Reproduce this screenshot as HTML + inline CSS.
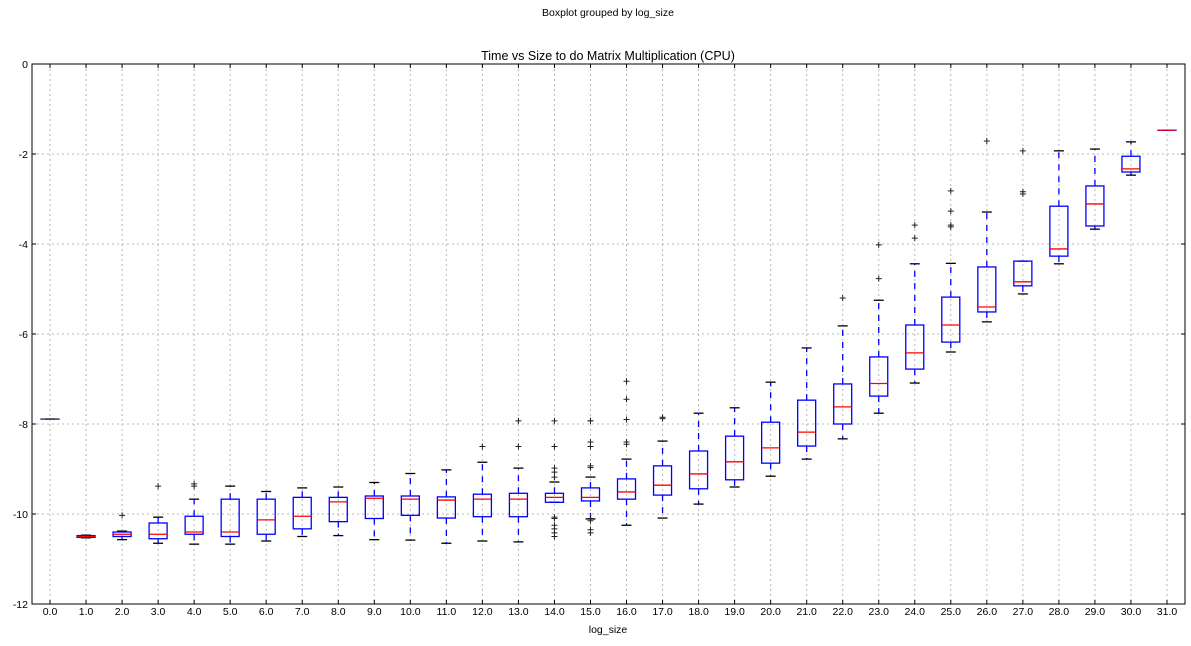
<!DOCTYPE html>
<html><head><meta charset="utf-8"><style>
body{margin:0;background:#fff;}
svg text{font-family:"Liberation Sans",sans-serif;fill:#000;}
</style></head><body>
<svg id="chart" width="1191" height="641">
<text x="608" y="16" font-size="10.5" text-anchor="middle">Boxplot grouped by log_size</text>
<text x="608" y="60" font-size="12.5" text-anchor="middle">Time vs Size to do Matrix Multiplication (CPU)</text>
<text x="608" y="633" font-size="10.5" text-anchor="middle">log_size</text>
<g id="grid"></g><g id="marks"></g><g id="axes"></g>
</svg>
<script>
const categories=["0.0","1.0","2.0","3.0","4.0","5.0","6.0","7.0","8.0","9.0","10.0","11.0","12.0","13.0","14.0","15.0","16.0","17.0","18.0","19.0","20.0","21.0","22.0","23.0","24.0","25.0","26.0","27.0","28.0","29.0","30.0","31.0"];
const whiskLow=[-7.89,-10.53,-10.57,-10.65,-10.67,-10.67,-10.6,-10.5,-10.48,-10.57,-10.58,-10.65,-10.6,-10.62,-9.74,-10.11,-10.25,-10.09,-9.78,-9.4,-9.16,-8.78,-8.33,-7.76,-7.09,-6.4,-5.73,-5.11,-4.44,-3.67,-2.47,-1.47];
const q1=[-7.89,-10.52,-10.5,-10.55,-10.45,-10.5,-10.45,-10.33,-10.17,-10.1,-10.03,-10.09,-10.06,-10.06,-9.74,-9.71,-9.67,-9.58,-9.44,-9.24,-8.87,-8.49,-8.0,-7.38,-6.78,-6.18,-5.51,-4.93,-4.27,-3.6,-2.4,-1.47];
const medians=[-7.89,-10.5,-10.45,-10.45,-10.4,-10.4,-10.13,-10.05,-9.73,-9.65,-9.67,-9.69,-9.67,-9.67,-9.63,-9.63,-9.51,-9.36,-9.11,-8.84,-8.53,-8.18,-7.62,-7.1,-6.42,-5.8,-5.4,-4.84,-4.11,-3.11,-2.33,-1.47];
const q3=[-7.89,-10.48,-10.4,-10.2,-10.05,-9.67,-9.67,-9.63,-9.63,-9.6,-9.6,-9.62,-9.56,-9.54,-9.54,-9.42,-9.22,-8.93,-8.6,-8.27,-7.96,-7.47,-7.11,-6.51,-5.8,-5.18,-4.51,-4.38,-3.16,-2.71,-2.05,-1.47];
const whiskHigh=[-7.89,-10.47,-10.38,-10.07,-9.67,-9.38,-9.5,-9.42,-9.4,-9.3,-9.1,-9.02,-8.85,-8.98,-9.29,-9.18,-8.78,-8.38,-7.76,-7.64,-7.07,-6.31,-5.82,-5.25,-4.44,-4.43,-3.29,-4.38,-1.93,-1.89,-1.73,-1.47];
const fliers=[[],[],[-10.03],[-9.38],[-9.33,-9.38],[],[],[],[],[],[],[],[-8.5],[-7.93,-8.5],[-7.93,-8.5,-8.98,-9.07,-9.18,-10.07,-10.1,-10.25,-10.33,-10.42,-10.5],[-7.93,-7.93,-8.4,-8.5,-8.93,-8.97,-10.1,-10.15,-10.35,-10.42],[-7.05,-7.45,-7.9,-8.4,-8.45],[-7.85,-7.88],[],[],[],[],[-5.2],[-4.77,-4.02],[-3.87,-3.58],[-3.62,-3.58,-3.27,-2.82],[-1.71],[-2.84,-2.89,-1.93],[],[],[],[]];
const yTicks=[0,-2,-4,-6,-8,-10,-12];

const L=32,R=1185,T=64,B=604,NS="http://www.w3.org/2000/svg";
const step=(R-L)/categories.length;
const xPos=i=>L+step*(i+0.5);
const yPos=v=>T+(0-v)/12*(B-T);
function mk(parent,tag,attrs){const e=document.createElementNS(NS,tag);for(const k in attrs)e.setAttribute(k,attrs[k]);document.getElementById(parent).appendChild(e);return e;}
categories.forEach((c,i)=>{const x=xPos(i);
 const g=mk('grid','line',{x1:x,x2:x,y1:T,y2:B,stroke:'#b8b8b8','stroke-dasharray':'2,3'});
 
 
 mk('axes','line',{x1:x,x2:x,y1:B,y2:B-4,stroke:'#000'});
 mk('axes','line',{x1:x,x2:x,y1:T,y2:T+4,stroke:'#000'});
 const t=mk('axes','text',{x:x,y:B+11,'font-size':'10.5','text-anchor':'middle'});t.textContent=c;
 
 
});
yTicks.forEach(v=>{const y=yPos(v);
 if(v!==0&&v!==-12){const g=mk('grid','line',{x1:L,x2:R,y1:y,y2:y,stroke:'#b8b8b8','stroke-dasharray':'2,3'});
 
 }
 mk('axes','line',{x1:L,x2:L+4,y1:y,y2:y,stroke:'#000'});
 mk('axes','line',{x1:R,x2:R-4,y1:y,y2:y,stroke:'#000'});
 const t=mk('axes','text',{x:L-4,y:y+4,'font-size':'10.5','text-anchor':'end'});t.textContent=v;
 
 
});
const frame=mk('axes','rect',{x:L,y:T,width:R-L,height:B-T,fill:'none',stroke:'#000'});


const bw=9,cw=5;
categories.forEach((c,i)=>{const x=xPos(i);
 const grp=mk('marks','g',{});
 
 
 const gid='bx'+i;grp.id=gid;
 mk(gid,'line',{x1:x,x2:x,y1:yPos(q3[i]),y2:yPos(whiskHigh[i]),stroke:'#00f','stroke-width':'1.3','stroke-dasharray':'6,6'});
 mk(gid,'line',{x1:x,x2:x,y1:yPos(q1[i]),y2:yPos(whiskLow[i]),stroke:'#00f','stroke-width':'1.3','stroke-dasharray':'6,6'});
 mk(gid,'line',{x1:x-cw,x2:x+cw,y1:yPos(whiskHigh[i]),y2:yPos(whiskHigh[i]),stroke:'#000','stroke-width':'1.3'});
 mk(gid,'line',{x1:x-cw,x2:x+cw,y1:yPos(whiskLow[i]),y2:yPos(whiskLow[i]),stroke:'#000','stroke-width':'1.3'});
 mk(gid,'rect',{x:x-bw,y:yPos(q3[i]),width:2*bw,height:Math.max(0.1,yPos(q1[i])-yPos(q3[i])),fill:'none',stroke:'#00f','stroke-width':'1.3'});
 mk(gid,'line',{x1:x-bw,x2:x+bw,y1:yPos(medians[i]),y2:yPos(medians[i]),stroke:i===0?'#555':'#f00','stroke-width':'1.3'});
 fliers[i].forEach(f=>{const y=yPos(f);
  mk(gid,'path',{d:`M${x-3},${y}H${x+3}M${x},${y-3}V${y+3}`,stroke:'#222','stroke-width':'1'});
 });
});
</script>
</body></html>
